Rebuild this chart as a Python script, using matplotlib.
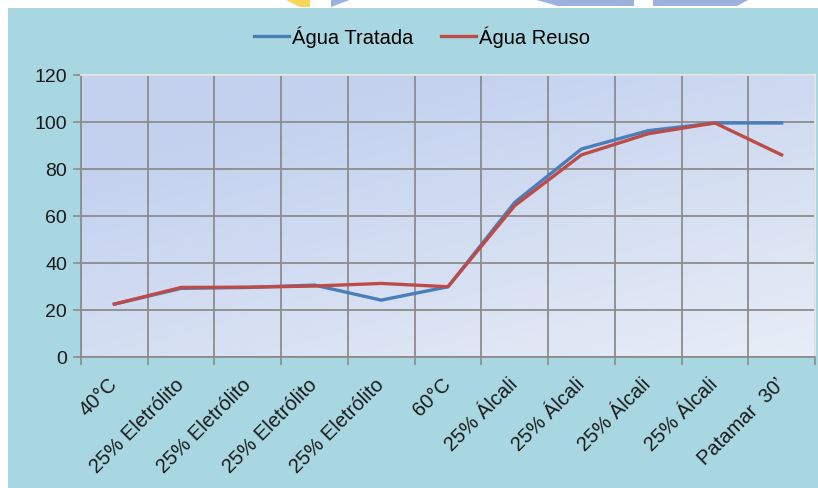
import numpy as np
import matplotlib
matplotlib.use('Agg')
import matplotlib.pyplot as plt
from matplotlib.patches import Rectangle, Polygon

plt.rcParams['font.family'] = ['Liberation Sans', 'DejaVu Sans']

categorias = ['40°C', '25% Eletrólito', '25% Eletrólito', '25% Eletrólito',
              '25% Eletrólito', '60°C', '25% Álcali', '25% Álcali',
              '25% Álcali', '25% Álcali', "Patamar  30’"]
agua_tratada = [22.5, 29.2, 29.6, 30.6, 24.2, 29.9, 65.8, 88.5, 96.3, 99.6, 99.6]
agua_reuso = [22.5, 29.6, 29.7, 30.2, 31.3, 29.9, 64.4, 86.0, 95.0, 99.6, 86.0]

W, H = 818, 489
fig = plt.figure(figsize=(W / 100, H / 100), dpi=100)
fig.patch.set_facecolor('white')

# cyan chart background (starts a few px in from top/left)
fig.patches.append(Rectangle((8 / W, 0), 1 - 8 / W, 1 - 9 / H, transform=fig.transFigure,
                             facecolor='#A8D7E2', edgecolor='none', zorder=-2))

# cut-off decoration at the top
def px(pts):
    return [(x / W, 1 - y / H) for x, y in pts]

fig.patches.append(Polygon(px([(284, 0), (310, 0), (310, 8), (300, 8)]), closed=True,
                           transform=fig.transFigure, facecolor='#F5D659', edgecolor='none',
                           zorder=-2))
for pts in [[(331, 0), (352, 0), (331, 8)],
            [(533, 0), (634, 0), (634, 7), (558, 7)],
            [(653, 0), (750, 0), (737, 7), (653, 7)]]:
    fig.patches.append(Polygon(px(pts), closed=True, transform=fig.transFigure,
                               facecolor='#9AB2DD', edgecolor='none', zorder=-2))

ax = fig.add_axes([81 / W, 1 - 358 / H, (815 - 81) / W, (358 - 76) / H])
ax.set_facecolor('none')

# gradient fill of the plot area
gx, gy = np.meshgrid(np.linspace(0, 1, 200), np.linspace(0, 1, 200))
t = np.clip(0.55 * gx + 0.75 * gy - 0.25, 0, 1)
c0 = np.array([0xC3, 0xD1, 0xEF]) / 255
c1 = np.array([0xE6, 0xEC, 0xF6]) / 255
img = c0 + (c1 - c0) * t[..., None]
ax.imshow(img, extent=[0, 1, 0, 1], origin='upper', transform=ax.transAxes,
          aspect='auto', zorder=0)

x = np.arange(len(categorias))
ax.plot(x, agua_tratada, color='#4A7EBB', lw=2.4, label='Água Tratada', zorder=3,
        solid_joinstyle='round')
ax.plot(x, agua_reuso, color='#BE4B48', lw=2.4, label='Água Reuso', zorder=4,
        solid_joinstyle='round')

ax.set_xlim(-0.5, len(categorias) - 0.5)
ax.set_ylim(0, 120)
ax.set_yticks(range(0, 121, 20))
ax.set_xticks(x)
ax.set_xticklabels(categorias, rotation=45, ha='right', va='center', rotation_mode='anchor',
                   color='#1A1A1A')
ax.set_xticks(np.arange(-0.5, len(categorias)), minor=True)
ax.tick_params(axis='x', which='major', length=0, pad=17, labelsize=14.5)
ax.tick_params(axis='x', which='minor', length=6, color='#8C8C8C', width=1.2)
ax.tick_params(axis='y', length=6, color='#8C8C8C', width=1.2, labelsize=14, pad=4,
               labelcolor='#1A1A1A')

ax.grid(True, which='minor', axis='x', color='#8C8C8C', lw=1.3, zorder=1)
ax.grid(True, which='major', axis='y', color='#8C8C8C', lw=1.3, zorder=1)
ax.set_axisbelow(True)

for s in ['left', 'bottom']:
    ax.spines[s].set_color('#8C8C8C')
    ax.spines[s].set_linewidth(1.3)
for s in ['top', 'right']:
    ax.spines[s].set_color('#E8E8E8')
    ax.spines[s].set_linewidth(1.3)

fig.legend(loc='center', bbox_to_anchor=(422 / W, 1 - 37 / H), ncol=2, frameon=False,
           fontsize=14.5, handlelength=1.7, handletextpad=0.15, columnspacing=1.4)

fig.savefig('out.png', dpi=100, facecolor=fig.get_facecolor())
